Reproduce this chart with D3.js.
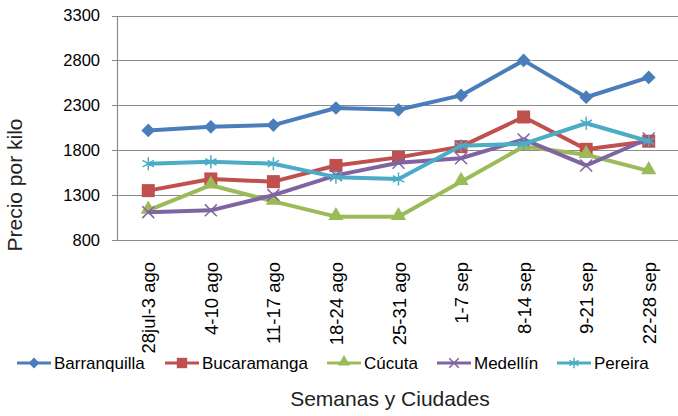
<!DOCTYPE html>
<html>
<head>
<meta charset="utf-8">
<script src="https://cdn.jsdelivr.net/npm/d3@7"></script>
<style>
  body { margin: 0; background: #fff; }
  text { font-family: "Liberation Sans", Arial, sans-serif; fill: #000; }
</style>
</head>
<body>
<div id="chart"></div>
<script>
// weeks on the x axis
var weeks = ['28jul-3 ago', '4-10 ago', '11-17 ago', '18-24 ago', '25-31 ago', '1-7 sep', '8-14 sep', '9-21 sep', '22-28 sep']
var yTicks = [800, 1300, 1800, 2300, 2800, 3300]

// price per kilo
var barranquilla = [2020, 2060, 2080, 2270, 2250, 2410, 2800, 2390, 2610]
var bucaramanga = [1350, 1480, 1450, 1630, 1720, 1840, 2170, 1810, 1900]
var cucuta = [1130, 1410, 1230, 1060, 1060, 1450, 1840, 1750, 1570]
var medellin = [1110, 1130, 1300, 1520, 1660, 1710, 1920, 1630, 1930]
var pereira = [1650, 1670, 1650, 1500, 1480, 1850, 1870, 2100, 1900]

var series = [
    { name: 'Barranquilla', values: barranquilla, color: '#4a7ebb', symbol: 'diamond' },
    { name: 'Bucaramanga', values: bucaramanga, color: '#c0504d', symbol: 'square' },
    { name: 'Cúcuta', values: cucuta, color: '#9bbb59', symbol: 'triangle' },
    { name: 'Medellín', values: medellin, color: '#8064a2', symbol: 'cross' },
    { name: 'Pereira', values: pereira, color: '#4bacc6', symbol: 'star' }
]

var width = 678
var height = 416
var plotLeft = 117, plotRight = 680, plotTop = 15.5, plotBottom = 240

var svg = d3.select('#chart').append('svg')
    .attr('width', width)
    .attr('height', height)

var x = d3.scaleBand().domain(weeks).range([plotLeft, plotRight])
var y = d3.scaleLinear().domain([800, 3300]).range([plotBottom, plotTop])

// gridlines
svg.append('g')
    .selectAll('line')
    .data(yTicks)
    .enter()
    .append('line')
    .attr('x1', plotLeft - 5)
    .attr('x2', plotRight)
    .attr('y1', function (d) { return Math.round(y(d)) + 0.5 })
    .attr('y2', function (d) { return Math.round(y(d)) + 0.5 })
    .attr('stroke', '#8c8c8c')
    .attr('stroke-width', 1.2)

// y axis line
svg.append('line')
    .attr('x1', plotLeft + 0.5).attr('x2', plotLeft + 0.5)
    .attr('y1', Math.round(y(3300))).attr('y2', Math.round(y(800)) + 1)
    .attr('stroke', '#8c8c8c')
    .attr('stroke-width', 1.2)

// y tick labels
svg.append('g')
    .selectAll('text')
    .data(yTicks)
    .enter()
    .append('text')
    .attr('x', 100)
    .attr('y', function (d) { return y(d) })
    .attr('dy', '0.36em')
    .attr('text-anchor', 'end')
    .style('font-size', '16.5px')
    .text(function (d) { return d })

// x tick labels, rotated
svg.append('g')
    .selectAll('text')
    .data(weeks)
    .enter()
    .append('text')
    .attr('transform', function (d) {
        return 'translate(' + (x(d) + x.bandwidth() / 2 + 7) + ',262) rotate(-90)'
    })
    .attr('text-anchor', 'end')
    .style('font-size', '18.5px')
    .text(function (d) { return d })

// axis titles
svg.append('text')
    .attr('transform', 'translate(22,185) rotate(-90)')
    .attr('text-anchor', 'middle')
    .style('font-size', '21px')
    .style('fill', '#222')
    .text('Precio por kilo')

svg.append('text')
    .attr('x', 390)
    .attr('y', 406)
    .attr('text-anchor', 'middle')
    .style('font-size', '21px')
    .style('fill', '#222')
    .text('Semanas y Ciudades')

function cx(i) { return x(weeks[i]) + x.bandwidth() / 2 }

function drawMarker(g, s, px, py, scale) {
    var k = scale || 1
    if (s.symbol == 'diamond') {
        g.append('path')
            .attr('d', d3.symbol().type(d3.symbolDiamond2).size(120 * k * k)())
            .attr('transform', 'translate(' + px + ',' + py + ')')
            .attr('fill', s.color)
    } else if (s.symbol == 'square') {
        g.append('rect')
            .attr('x', px - 6.5 * k).attr('y', py - 6.5 * k)
            .attr('width', 13 * k).attr('height', 13 * k)
            .attr('fill', s.color)
    } else if (s.symbol == 'triangle') {
        g.append('path')
            .attr('d', d3.symbol().type(d3.symbolTriangle).size(100 * k * k)())
            .attr('transform', 'translate(' + px + ',' + (py - 1) + ')')
            .attr('fill', s.color)
    } else if (s.symbol == 'cross') {
        g.append('path')
            .attr('d', d3.symbol().type(d3.symbolX).size(95 * k * k)())
            .attr('transform', 'translate(' + px + ',' + py + ')')
            .attr('fill', 'none')
            .attr('stroke', s.color)
            .attr('stroke-width', 1.5)
    } else {
        g.append('path')
            .attr('d', d3.symbol().type(d3.symbolAsterisk).size(120 * k * k)())
            .attr('transform', 'translate(' + px + ',' + py + ')')
            .attr('fill', 'none')
            .attr('stroke', s.color)
            .attr('stroke-width', 1.5)
    }
}

var line = d3.line()
    .x(function (d, i) { return cx(i) })
    .y(function (d) { return y(d) })

series.forEach(function (s) {
    var g = svg.append('g')
    g.append('path')
        .datum(s.values)
        .attr('d', line)
        .attr('fill', 'none')
        .attr('stroke', s.color)
        .attr('stroke-width', 4)
        .attr('stroke-linejoin', 'round')
    s.values.forEach(function (v, i) {
        drawMarker(g, s, cx(i), y(v))
    })
})

// legend
var legendX = [17, 165, 327, 437, 557]
var legendY = 363
series.forEach(function (s, i) {
    var g = svg.append('g')
    g.append('line')
        .attr('x1', legendX[i]).attr('x2', legendX[i] + 34)
        .attr('y1', legendY).attr('y2', legendY)
        .attr('stroke', s.color)
        .attr('stroke-width', 3)
    drawMarker(g, s, legendX[i] + 17, legendY, 0.8)
    g.append('text')
        .attr('x', legendX[i] + 37)
        .attr('y', legendY)
        .attr('dy', '0.36em')
        .style('font-size', '17px')
        .text(s.name)
})
</script>
</body>
</html>
